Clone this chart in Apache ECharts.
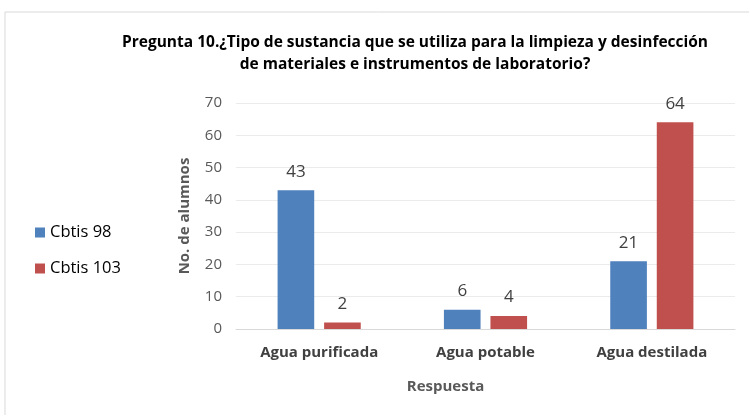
<!DOCTYPE html>
<html>
<head>
<meta charset="utf-8">
<style>
  html, body { margin: 0; padding: 0; background: #fff; }
  #chart { width: 749px; height: 415px; }
</style>
<script src="https://cdn.jsdelivr.net/npm/echarts@6/dist/echarts.min.js"></script>
</head>
<body>
<div id="chart"></div>
<script>
var categories = ["Agua purificada", "Agua potable", "Agua destilada"];
var cbtis98 = [43, 6, 21];
var cbtis103 = [2, 4, 64];
var yTicks = [0, 10, 20, 30, 40, 50, 60, 70];

var font = "Open Sans";
var myChart = echarts.init(document.getElementById("chart"));

var option = {
    animation: false,
    textStyle: { fontFamily: font },
    title: {
        text: "Pregunta 10.¿Tipo de sustancia que se utiliza para la limpieza y desinfección\nde materiales e instrumentos de laboratorio?",
        left: 410,
        top: 27,
        textAlign: "center",
        textStyle: { fontSize: 15.5, fontWeight: "bold", color: "#000", lineHeight: 22, fontFamily: font }
    },
    graphic: [{
        type: "rect",
        shape: { x: 5, y: 12, width: 760, height: 420 },
        style: { fill: "none", stroke: "#d9d9d9", lineWidth: 1 },
        silent: true
    }],
    legend: {
        orient: "vertical",
        left: 30,
        top: 219,
        itemWidth: 10,
        itemHeight: 10,
        itemGap: 19,
        icon: "rect",
        textStyle: { fontSize: 16.5, color: "#000", fontFamily: font },
        data: ["Cbtis 98", "Cbtis 103"]
    },
    grid: { left: 236, right: 14, top: 103, bottom: 86 },
    xAxis: {
        type: "category",
        data: categories,
        name: "Respuesta",
        nameLocation: "middle",
        nameGap: 50,
        nameTextStyle: { fontSize: 15, fontWeight: "bold", color: "#595959", padding: [0, 80, 0, 0], fontFamily: font },
        axisLine: { lineStyle: { color: "#d9d9d9" } },
        axisTick: { show: false },
        axisLabel: { fontSize: 15, fontWeight: "bold", color: "#404040", margin: 16, fontFamily: font }
    },
    yAxis: {
        type: "value",
        min: yTicks[0],
        max: yTicks[yTicks.length - 1],
        interval: 10,
        name: "No. de alumnos",
        nameLocation: "middle",
        nameGap: 44,
        nameTextStyle: { fontSize: 15, fontWeight: "bold", color: "#595959", fontFamily: font },
        splitLine: { show: true, lineStyle: { color: "#ebebeb" } },
        axisLine: { show: false },
        axisTick: { show: false },
        axisLabel: { fontSize: 15, color: "#595959", margin: 14, fontFamily: font }
    },
    series: [{
        name: "Cbtis 98",
        type: "bar",
        data: cbtis98,
        barGap: "27%",
        barCategoryGap: "50%",
        itemStyle: { color: "#4F81BD" },
        label: { show: true, position: "top", distance: 10, fontSize: 17, color: "#404040", fontFamily: font }
    }, {
        name: "Cbtis 103",
        type: "bar",
        data: cbtis103,
        itemStyle: { color: "#C0504D" },
        label: { show: true, position: "top", distance: 10, fontSize: 17, color: "#404040", fontFamily: font }
    }]
};
myChart.setOption(option);
</script>
</body>
</html>
